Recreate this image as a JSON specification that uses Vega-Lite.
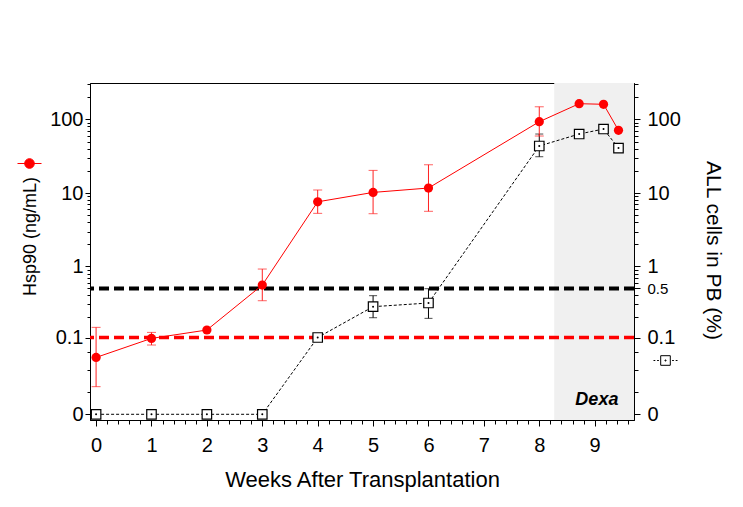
{
  "$schema": "https://vega.github.io/schema/vega-lite/v6.json",
  "width": 544,
  "height": 337,
  "autosize": "none",
  "padding": {"left": 90, "top": 83, "right": 109, "bottom": 87},
  "background": "white",
  "config": {
    "font": "Liberation Sans",
    "view": {"stroke": "black", "strokeWidth": 1},
    "axis": {"domainColor": "black", "tickColor": "black", "labelColor": "black", "titleColor": "black", "grid": false, "labelFont": "Liberation Sans", "titleFont": "Liberation Sans", "titleFontWeight": "normal", "labelFontSize": 20, "titleFontSize": 20, "domainWidth": 1, "tickWidth": 1},
    "legend": {"padding": 0, "labelOffset": 0, "rowPadding": 0, "titlePadding": 0}
  },
  "datasets": {
    "hsp": [
      {"week": 0, "value": 0.049, "lo": 0.0137, "hi": 0.141, "series": "Hsp90"},
      {"week": 1, "value": 0.097, "lo": 0.077, "hi": 0.119, "series": "Hsp90"},
      {"week": 2, "value": 0.129, "series": "Hsp90"},
      {"week": 3, "value": 0.556, "lo": 0.337, "hi": 0.923, "series": "Hsp90"},
      {"week": 4, "value": 7.6, "lo": 5.3, "hi": 11.0, "series": "Hsp90"},
      {"week": 5, "value": 10.2, "lo": 5.24, "hi": 20.3, "series": "Hsp90"},
      {"week": 6, "value": 11.7, "lo": 5.65, "hi": 24.2, "series": "Hsp90"},
      {"week": 8, "value": 92.8, "lo": 59.4, "hi": 148, "series": "Hsp90"},
      {"week": 8.72, "value": 163, "series": "Hsp90"},
      {"week": 9.16, "value": 160, "series": "Hsp90"},
      {"week": 9.43, "value": 71, "series": "Hsp90"}
    ],
    "all": [
      {"week": 0, "value": 0, "series": "ALL"},
      {"week": 1, "value": 0, "series": "ALL"},
      {"week": 2, "value": 0, "series": "ALL"},
      {"week": 3, "value": 0, "series": "ALL"},
      {"week": 4, "value": 0.1, "series": "ALL"},
      {"week": 5, "value": 0.278, "lo": 0.194, "hi": 0.396, "series": "ALL"},
      {"week": 6, "value": 0.313, "lo": 0.19, "hi": 0.495, "series": "ALL"},
      {"week": 8, "value": 43.5, "lo": 31.1, "hi": 63.2, "series": "ALL"},
      {"week": 8.72, "value": 63.2, "series": "ALL"},
      {"week": 9.16, "value": 73.9, "series": "ALL"},
      {"week": 9.43, "value": 40.8, "series": "ALL"}
    ],
    "dexa": [{"label": "Dexa", "start": 8.27, "end": 9.71, "labelWeek": 9.04, "labelValue": 0}]
  },
  "resolve": {"scale": {"x": "shared", "y": "shared"}, "axis": {"x": "independent", "y": "independent"}},
  "layer": [
    {
      "data": {"name": "dexa"},
      "mark": {"type": "rect", "fill": "#f0f0f0"},
      "encoding": {
        "x": {"field": "start", "type": "quantitative", "scale": {"domain": [-0.11, 9.71], "nice": false, "zero": false}, "axis": null},
        "x2": {"field": "end"}
      }
    },
    {
      "data": {"values": [{}]},
      "mark": {"type": "rule", "color": "#ff0000", "strokeWidth": 3.5, "strokeDash": [10, 5]},
      "encoding": {
        "y": {"datum": 0.1, "type": "quantitative", "scale": {"type": "symlog", "constant": 0.01, "domain": [-0.00195, 311], "nice": false, "zero": false}, "axis": null}
      }
    },
    {
      "data": {"values": [{}]},
      "mark": {"type": "rule", "color": "black", "strokeWidth": 4, "strokeDash": [10, 5]},
      "encoding": {
        "y": {"datum": 0.5, "type": "quantitative", "scale": {"type": "symlog", "constant": 0.01, "domain": [-0.00195, 311], "nice": false, "zero": false}, "axis": null}
      }
    },
    {
      "data": {"name": "all"},
      "mark": {"type": "line", "color": "black", "strokeWidth": 1, "strokeDash": [3, 2]},
      "encoding": {
        "x": {"field": "week", "type": "quantitative", "scale": {"domain": [-0.11, 9.71], "nice": false, "zero": false}, "axis": null},
        "y": {"field": "value", "type": "quantitative", "scale": {"type": "symlog", "constant": 0.01, "domain": [-0.00195, 311], "nice": false, "zero": false},
              "axis": {"orient": "right", "values": [0.01, 0.03, 0.06, 0.2, 0.3, 0.4, 0.6, 0.7, 0.8, 0.9, 2, 3, 4, 5, 6, 7, 8, 9, 20, 30, 40, 50, 60, 70, 80, 90, 200, 300], "labels": false, "domain": false, "tickSize": 4, "title": null}}
      }
    },
    {
      "data": {"name": "hsp"},
      "mark": {"type": "line", "color": "#ff0000", "strokeWidth": 1},
      "encoding": {
        "x": {"field": "week", "type": "quantitative", "scale": {"domain": [-0.11, 9.71], "nice": false, "zero": false}, "axis": null},
        "y": {"field": "value", "type": "quantitative", "scale": {"type": "symlog", "constant": 0.01, "domain": [-0.00195, 311], "nice": false, "zero": false},
              "axis": {"orient": "left", "values": [0.01, 0.03, 0.06, 0.2, 0.3, 0.4, 0.5, 0.6, 0.7, 0.8, 0.9, 2, 3, 4, 5, 6, 7, 8, 9, 20, 30, 40, 50, 60, 70, 80, 90, 200, 300], "labels": false, "domain": false, "tickSize": 3, "title": null}}
      }
    },
    {
      "data": {"name": "all"},
      "mark": {"type": "rule", "color": "black", "strokeWidth": 1},
      "encoding": {
        "x": {"field": "week", "type": "quantitative", "scale": {"domain": [-0.11, 9.71], "nice": false, "zero": false},
              "axis": {"orient": "bottom", "values": [0.2, 0.4, 0.6, 0.8, 1.2, 1.4, 1.6, 1.8, 2.2, 2.4, 2.6, 2.8, 3.2, 3.4, 3.6, 3.8, 4.2, 4.4, 4.6, 4.8, 5.2, 5.4, 5.6, 5.8, 6.2, 6.4, 6.6, 6.8, 7.2, 7.4, 7.6, 7.8, 8.2, 8.4, 8.6, 8.8, 9.2, 9.4, 9.6], "labels": false, "domain": false, "tickSize": 4, "title": null}},
        "y": {"field": "lo", "type": "quantitative", "scale": {"type": "symlog", "constant": 0.01, "domain": [-0.00195, 311], "nice": false, "zero": false}, "axis": null},
        "y2": {"field": "hi"}
      }
    },
    {
      "data": {"name": "all"},
      "mark": {"type": "tick", "orient": "horizontal", "color": "black", "size": 8, "thickness": 1},
      "encoding": {
        "x": {"field": "week", "type": "quantitative", "scale": {"domain": [-0.11, 9.71], "nice": false, "zero": false}, "axis": null},
        "y": {"field": "lo", "type": "quantitative", "scale": {"type": "symlog", "constant": 0.01, "domain": [-0.00195, 311], "nice": false, "zero": false}, "axis": null}
      }
    },
    {
      "data": {"name": "all"},
      "mark": {"type": "tick", "orient": "horizontal", "color": "black", "size": 8, "thickness": 1},
      "encoding": {
        "x": {"field": "week", "type": "quantitative", "scale": {"domain": [-0.11, 9.71], "nice": false, "zero": false}, "axis": null},
        "y": {"field": "hi", "type": "quantitative", "scale": {"type": "symlog", "constant": 0.01, "domain": [-0.00195, 311], "nice": false, "zero": false}, "axis": null}
      }
    },
    {
      "data": {"name": "hsp"},
      "mark": {"type": "rule", "color": "#ff2020", "strokeWidth": 1},
      "encoding": {
        "x": {"field": "week", "type": "quantitative", "scale": {"domain": [-0.11, 9.71], "nice": false, "zero": false}, "axis": null},
        "y": {"field": "lo", "type": "quantitative", "scale": {"type": "symlog", "constant": 0.01, "domain": [-0.00195, 311], "nice": false, "zero": false}, "axis": null},
        "y2": {"field": "hi"}
      }
    },
    {
      "data": {"name": "hsp"},
      "mark": {"type": "tick", "orient": "horizontal", "color": "#ff2020", "size": 9, "thickness": 1},
      "encoding": {
        "x": {"field": "week", "type": "quantitative", "scale": {"domain": [-0.11, 9.71], "nice": false, "zero": false}, "axis": null},
        "y": {"field": "lo", "type": "quantitative", "scale": {"type": "symlog", "constant": 0.01, "domain": [-0.00195, 311], "nice": false, "zero": false}, "axis": null}
      }
    },
    {
      "data": {"name": "hsp"},
      "mark": {"type": "tick", "orient": "horizontal", "color": "#ff2020", "size": 9, "thickness": 1},
      "encoding": {
        "x": {"field": "week", "type": "quantitative", "scale": {"domain": [-0.11, 9.71], "nice": false, "zero": false}, "axis": null},
        "y": {"field": "hi", "type": "quantitative", "scale": {"type": "symlog", "constant": 0.01, "domain": [-0.00195, 311], "nice": false, "zero": false}, "axis": null}
      }
    },
    {
      "data": {"name": "all"},
      "mark": {"type": "point", "shape": "square", "filled": false, "fill": "white", "fillOpacity": 1, "strokeWidth": 1.2, "size": 90, "opacity": 1},
      "encoding": {
        "x": {"field": "week", "type": "quantitative", "scale": {"domain": [-0.11, 9.71], "nice": false, "zero": false}, "axis": null},
        "y": {"field": "value", "type": "quantitative", "scale": {"type": "symlog", "constant": 0.01, "domain": [-0.00195, 311], "nice": false, "zero": false},
              "axis": {"orient": "right", "values": [0, 0.1, 0.5, 1, 10, 100], "labelExpr": "'' + datum.value", "labelFontSize": {"condition": {"test": "datum.value == 0.5", "value": 15}, "value": 20}, "tickSize": 6, "labelPadding": 7, "title": "ALL cells in PB (%)", "titleAngle": 90, "titleX": 68, "titleY": 167, "titleBaseline": "bottom", "titleAlign": "center", "titleFontSize": 21}},
        "stroke": {"field": "series", "type": "nominal", "scale": {"domain": ["ALL"], "range": ["black"]},
                   "legend": {"orient": "none", "legendX": 563, "legendY": 265, "title": null, "labelExpr": "''",
                              "symbolType": "M-1,0H-0.85M-0.7,0H-0.55M0.55,0H0.7M0.85,0H1M-0.4,-0.4H0.4V0.4H-0.4ZM-0.04,-0.04H0.04V0.04H-0.04Z",
                              "symbolSize": 576, "symbolFillColor": "white", "symbolStrokeColor": "black", "symbolStrokeWidth": 1}}
      }
    },
    {
      "data": {"name": "all"},
      "mark": {"type": "point", "filled": true, "color": "black", "size": 4, "opacity": 1},
      "encoding": {
        "x": {"field": "week", "type": "quantitative", "scale": {"domain": [-0.11, 9.71], "nice": false, "zero": false}, "axis": null},
        "y": {"field": "value", "type": "quantitative", "scale": {"type": "symlog", "constant": 0.01, "domain": [-0.00195, 311], "nice": false, "zero": false}, "axis": null}
      }
    },
    {
      "data": {"name": "hsp"},
      "mark": {"type": "point", "filled": true, "size": 85, "opacity": 1},
      "encoding": {
        "x": {"field": "week", "type": "quantitative", "scale": {"domain": [-0.11, 9.71], "nice": false, "zero": false},
              "axis": {"orient": "bottom", "values": [0, 1, 2, 3, 4, 5, 6, 7, 8, 9], "tickSize": 6, "labelPadding": 9, "title": "Weeks After Transplantation", "titleFontSize": 22, "titlePadding": 14}},
        "y": {"field": "value", "type": "quantitative", "scale": {"type": "symlog", "constant": 0.01, "domain": [-0.00195, 311], "nice": false, "zero": false},
              "axis": {"orient": "left", "values": [0, 0.1, 1, 10, 100], "labelExpr": "'' + datum.value", "tickSize": 5, "labelPadding": 2, "title": "Hsp90 (ng/mL)", "titleAngle": -90, "titleX": -51, "titleY": 153, "titleBaseline": "bottom", "titleAlign": "center", "titleFontSize": 18}},
        "color": {"field": "series", "type": "nominal", "scale": {"domain": ["Hsp90"], "range": ["#ff0000"]},
                  "legend": {"orient": "none", "legendX": -73, "legendY": 68, "title": null, "labelExpr": "''",
                             "symbolType": "M-1,0H1M0.4,0A0.4,0.4,0,1,1,-0.4,0A0.4,0.4,0,1,1,0.4,0Z",
                             "symbolSize": 576, "symbolFillColor": "#ff0000", "symbolStrokeColor": "#ff0000", "symbolStrokeWidth": 1,
                             "encode": {"symbols": {"update": {"fill": {"value": "#ff0000"}, "stroke": {"value": "#ff0000"}, "strokeWidth": {"value": 1}, "opacity": {"value": 1}}}}}}
      }
    },
    {
      "data": {"name": "dexa"},
      "mark": {"type": "text", "fontStyle": "italic", "fontWeight": "bold", "fontSize": 18, "baseline": "alphabetic", "align": "center", "dy": -9, "color": "black"},
      "encoding": {
        "x": {"field": "labelWeek", "type": "quantitative", "scale": {"domain": [-0.11, 9.71], "nice": false, "zero": false}, "axis": null},
        "y": {"field": "labelValue", "type": "quantitative", "scale": {"type": "symlog", "constant": 0.01, "domain": [-0.00195, 311], "nice": false, "zero": false}, "axis": null},
        "text": {"field": "label"}
      }
    }
  ]
}
